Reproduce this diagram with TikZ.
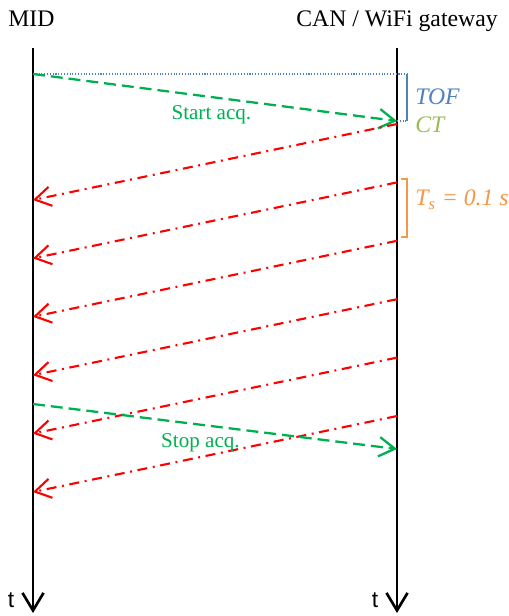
\documentclass[tikz,border=0pt]{standalone}
\usepackage{fontspec}
\setmainfont{Liberation Serif}
\newfontfamily\axisfont{Liberation Sans}
\usetikzlibrary{arrows.meta, positioning, calc}
\definecolor{MsgGreen}{HTML}{00B050}
\definecolor{MsgRed}{HTML}{FF0000}
\definecolor{TofBlue}{HTML}{4F81BD}
\definecolor{CtGreen}{HTML}{9BBB59}
\definecolor{TsOrange}{HTML}{F79646}

\tikzset{
  lifeline/.style={line width=1.5pt,
    -{Straight Barb[length=10pt, width=12pt, line width=1.5pt]}},
  cmdmsg/.style={MsgGreen, line width=1.3pt, dash pattern=on 6.8pt off 3.4pt,
    -{Straight Barb[length=9pt, width=11pt, line width=1.3pt]}},
  datamsg/.style={MsgRed, line width=1.2pt,
    dash pattern=on 5.7pt off 3.2pt on 1.1pt off 3.2pt,
    -{Straight Barb[length=9pt, width=11pt, line width=1.2pt]}},
  header/.style={font=\fontsize{13.5}{15}\selectfont, inner sep=0pt},
  msglabel/.style={MsgGreen, font=\fontsize{12}{14}\selectfont},
  timelabel/.style={font=\fontsize{13.5}{15}\selectfont\itshape, inner sep=0pt, anchor=west}
}

\begin{document}
\begin{tikzpicture}[x=0.02cm, y=-0.02cm]
  \useasboundingbox (0,0) rectangle (508,616);

  % participants
  \node[header, anchor=base west] (mid) at (8,26) {MID};
  \node[header, anchor=base east] (gw) at (498,26) {CAN / WiFi gateway};

  \coordinate (mid top) at (33,48);
  \coordinate (mid bot) at (33,613);
  \coordinate (gw top) at (397,48);
  \coordinate (gw bot) at (397,613);

  \draw[lifeline] (mid top) -- (mid bot);
  \draw[lifeline] (gw top) -- (gw bot);
  \node[font=\axisfont\fontsize{13}{15}\selectfont] (t mid) at (11,600) {t};
  \node[font=\axisfont\fontsize{13}{15}\selectfont] (t gw) at (375,600) {t};

  % start / stop commands
  \coordinate (start from) at (33,74);
  \coordinate (start to) at (397,121);
  \coordinate (stop from) at (33,404);
  \coordinate (stop to) at (397,449);

  % TOF bracket
  \coordinate (tof top) at (407,74);
  \coordinate (tof bot) at (407,121);
  \draw[TofBlue, line width=0.6pt, densely dotted] (start from) -- (tof top);
  \draw[TofBlue, line width=0.6pt, densely dotted] (start to) -- (tof bot);
  \draw[TofBlue, line width=0.8pt] (tof top) -- (tof bot);
  \node[timelabel, TofBlue] (tof) at (415,97) {TOF};
  \node[timelabel, CtGreen] (ct) at (415,125) {CT};

  \draw[cmdmsg] (start from) -- node[msglabel, pos=0.49, below=1pt] {Start acq.} (start to);

  % sampled data frames
  \foreach \i in {0,...,5} {
    \coordinate (data\i from) at (397,{124+58.4*\i});
    \coordinate (data\i to) at (33,{200+58.4*\i});
    \draw[datamsg] (data\i from) -- (data\i to);
  }

  % sampling period bracket
  \coordinate (ts top) at (407,179);
  \coordinate (ts bot) at (407,237);
  \draw[TsOrange, line width=0.8pt] ($(ts top)+(-6,0)$) -- (ts top) -- (ts bot) -- ($(ts bot)+(-6,0)$);
  \node[timelabel, TsOrange] (ts) at (415,200) {T\textsubscript{s} = 0.1 s};

  \draw[cmdmsg] (stop from) -- node[msglabel, pos=0.46, below=1pt] {Stop acq.} (stop to);
\end{tikzpicture}
\end{document}
